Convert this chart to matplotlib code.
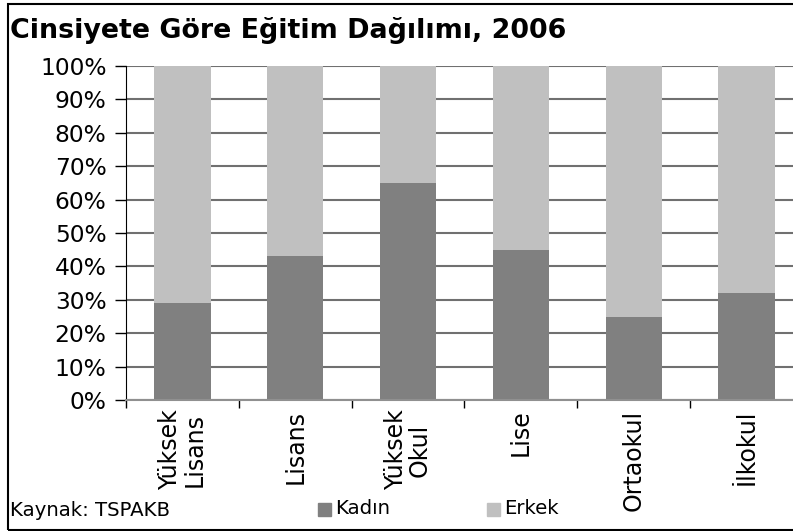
import matplotlib
matplotlib.use("Agg")
import matplotlib.pyplot as plt
from matplotlib.patches import Rectangle
import numpy as np

categories = ["Yüksek\nLisans", "Lisans", "Yüksek\nOkul", "Lise", "Ortaokul", "İlkokul"]
kadin = [29, 43, 65, 45, 25, 32]
erkek = [100 - v for v in kadin]
title = "Cinsiyete Göre Eğitim Dağılımı, 2006"
source = "Kaynak: TSPAKB"

W, H = 793, 531
fig = plt.figure(figsize=(W / 100, H / 100), dpi=100)
x0, x1, y_top, y_bot = 126, 803, 66, 400
ax = fig.add_axes([x0 / W, (H - y_bot) / H, (x1 - x0) / W, (y_bot - y_top) / H])

x = np.arange(len(categories))
c_k, c_e = "#808080", "#C0C0C0"
ax.bar(x, kadin, width=0.5, color=c_k, zorder=3)
ax.bar(x, erkek, width=0.5, bottom=kadin, color=c_e, zorder=3)

ax.set_xlim(-0.5, len(categories) - 0.5)
ax.set_ylim(0, 100)
yt = np.arange(0, 101, 10)
ax.set_yticks(yt)
ax.set_yticklabels([f"{v}%" for v in yt], fontsize=16.8, family="DejaVu Sans")
ax.yaxis.grid(True, color="#707070", linewidth=1.5, zorder=0)
ax.tick_params(axis="y", direction="out", length=8, width=1, pad=6, color="black")

ax.set_xticks(x)
ax.set_xticklabels(categories, rotation=90, fontsize=17, family="DejaVu Sans",
                   va="top", ha="center", linespacing=1.0)
ax.set_xticks(np.arange(-0.5, len(categories), 1), minor=True)
ax.tick_params(axis="x", which="major", length=0, pad=7)
ax.tick_params(axis="x", which="minor", direction="out", length=6, width=1, color="black")

for s in ["top", "right"]:
    ax.spines[s].set_visible(False)
ax.spines["left"].set_color("black")
ax.spines["bottom"].set_color("#909090")
ax.spines["bottom"].set_linewidth(1.5)
ax.spines["bottom"].set_zorder(4)

fig.text(10 / W, 1 - 31 / H, title, fontsize=19.4, fontweight="bold",
         family="DejaVu Sans", va="center", ha="left")
fig.text(10 / W, 1 - 510 / H, source, fontsize=14.2, family="Liberation Sans Narrow",
         va="center", ha="left")

for lx, lab, col in [(318, "Kadın", c_k), (487, "Erkek", c_e)]:
    fig.patches.append(Rectangle((lx / W, 1 - 516 / H), 13 / W, 13 / H,
                                 transform=fig.transFigure, color=col))
    fig.text((lx + 17) / W, 1 - 509 / H, lab, fontsize=14.2,
             family="Liberation Sans Narrow", va="center", ha="left")

fig.patches.append(Rectangle((8 / W, 1 - 530 / H), 800 / W, 526 / H,
                             transform=fig.transFigure, fill=False,
                             edgecolor="black", linewidth=1.5))

fig.savefig("out.png", dpi=100)
